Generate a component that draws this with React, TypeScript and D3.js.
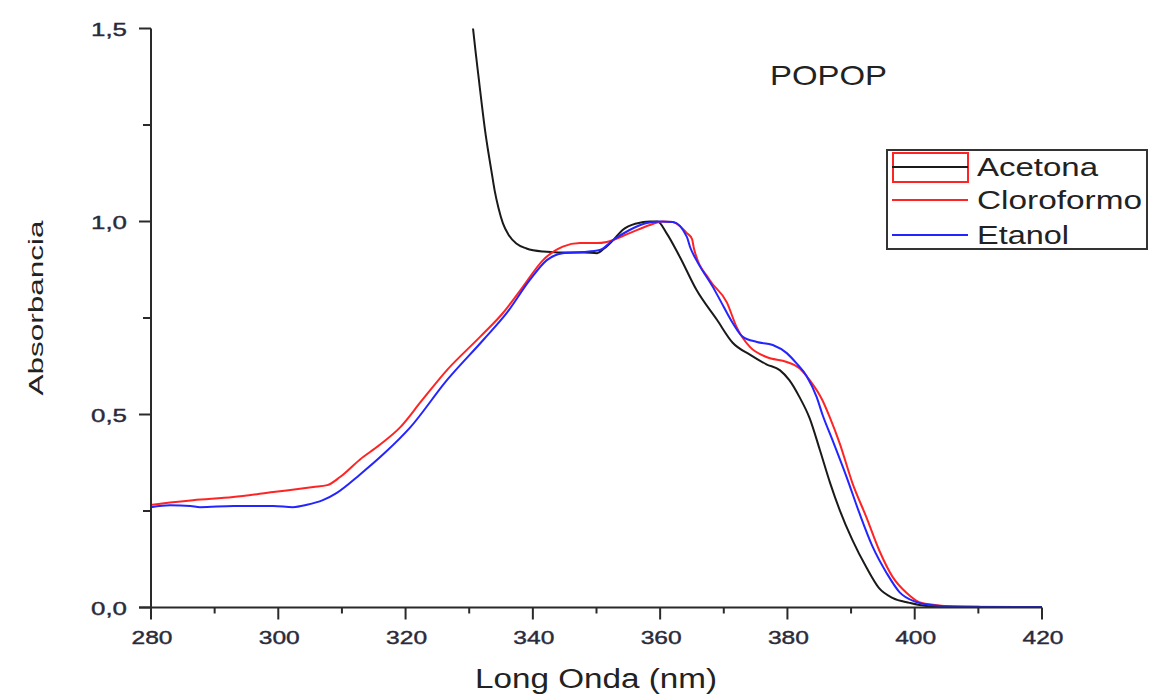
import React from "react";
import * as d3 from "d3";

// ---- Data (wavelength nm, absorbance) ----
const acetonaWl = [330.6, 331.0, 331.5, 332.0, 332.5, 333.0, 333.5, 334.0, 334.6, 335.3, 336.2, 337.4, 339.0, 341.6, 344.0, 348.0, 350.1, 351.2, 352.8, 354.1, 356.3, 358.4, 359.6, 361.0, 363.1, 365.7, 368.9, 371.4, 374.1, 376.7, 378.8, 380.3, 381.9, 383.5, 385.1, 386.7, 388.2, 390.2, 392.4, 394.4, 396.5, 399.2, 401.8, 405.0, 410.2];
const acetonaAbs = [1.5, 1.44, 1.37, 1.3, 1.235, 1.18, 1.13, 1.08, 1.035, 0.995, 0.965, 0.943, 0.93, 0.922, 0.92, 0.92, 0.918, 0.93, 0.955, 0.978, 0.995, 1.0, 1.0, 0.97, 0.908, 0.823, 0.746, 0.686, 0.655, 0.63, 0.615, 0.589, 0.545, 0.49, 0.408, 0.323, 0.253, 0.175, 0.104, 0.05, 0.025, 0.012, 0.004, 0.002, 0.001];

const cloroWl = [280, 283, 286.6, 292.9, 299.2, 305.5, 307.7, 309.7, 312.8, 315.9, 319.1, 322.5, 326.5, 331.7, 335.3, 338.4, 341.6, 344.7, 347.4, 350.1, 351.6, 355.2, 358.4, 360.4, 362.0, 364.2, 365.0, 365.3, 367.8, 370.5, 372.0, 374.1, 376.7, 379.9, 381.9, 383.5, 385.5, 386.6, 388.2, 390.2, 392.4, 394.4, 396.5, 398.7, 400.7, 403.4, 406.0, 410.2];
const cloroAbs = [0.266, 0.272, 0.278, 0.286, 0.299, 0.312, 0.317, 0.338, 0.383, 0.421, 0.466, 0.535, 0.615, 0.701, 0.763, 0.83, 0.9, 0.935, 0.944, 0.944, 0.947, 0.97, 0.991, 1.0, 0.999, 0.97, 0.955, 0.931, 0.848, 0.79, 0.727, 0.675, 0.649, 0.636, 0.62, 0.589, 0.537, 0.495, 0.426, 0.323, 0.234, 0.149, 0.08, 0.038, 0.014, 0.006, 0.003, 0.002];

const etanolWl = [280, 283, 286.2, 287.7, 293, 299.2, 302.3, 304.5, 307.0, 309.2, 312.8, 316.7, 320.7, 326.5, 332.2, 335.9, 339.5, 342.2, 344.7, 347.9, 350.5, 352.6, 355.2, 357.9, 359.9, 362.0, 364.2, 364.7, 365.7, 368.3, 369.4, 371.4, 373.0, 375.2, 377.7, 379.9, 381.4, 383.0, 384.6, 385.5, 387.1, 389.3, 391.3, 393.4, 395.6, 397.6, 400.3, 402.8, 406.0, 420.0];
const etanolAbs = [0.26, 0.265, 0.263, 0.26, 0.263, 0.263, 0.26, 0.266, 0.278, 0.297, 0.344, 0.4, 0.466, 0.589, 0.693, 0.763, 0.848, 0.9, 0.918, 0.921, 0.926, 0.952, 0.978, 0.996, 1.0, 0.999, 0.96, 0.934, 0.9, 0.83, 0.797, 0.737, 0.701, 0.688, 0.68, 0.659, 0.633, 0.6, 0.545, 0.5, 0.433, 0.338, 0.245, 0.157, 0.089, 0.04, 0.014, 0.006, 0.002, 0.001];

const seriesNames = ["Acetona", "Cloroformo", "Etanol"];
const seriesColors = ["#1a1a1a", "#ff2424", "#2424ff"];
const xMajorTicks = [280, 300, 320, 340, 360, 380, 400, 420];
const xMinorTicks = [290, 310, 330, 350, 370, 390, 410];
const yMajorTicks = [0, 0.5, 1.0, 1.5];
const yMinorTicks = [0.25, 0.75, 1.25];
const title = "POPOP";
const xTitle = "Long Onda (nm)";
const yTitle = "Absorbancia";

const FONT = "'Liberation Sans', Arial, sans-serif";

export default function App() {
  const x = d3.scaleLinear().domain([280, 420]).range([151, 1042]);
  const y = d3.scaleLinear().domain([0, 1.5]).range([607.5, 28.5]);
  const line = d3
    .line<[number, number]>()
    .x((d) => x(d[0]))
    .y((d) => y(d[1]))
    .curve(d3.curveMonotoneX);

  const series = [
    { wl: acetonaWl, abs: acetonaAbs },
    { wl: cloroWl, abs: cloroAbs },
    { wl: etanolWl, abs: etanolAbs },
  ];
  const axisColor = "#2a2a2a";
  const x0 = x(280);
  const y0 = y(0);
  const fmt = (v: number) => v.toFixed(1).replace(".", ",");

  const legendRows = [167, 200, 235];
  const legendLens = [121, 165, 92];

  return (
    <svg
      width={1149}
      height={694}
      style={{ position: "absolute", left: 0, top: 0, background: "#fff" }}
    >
      <rect x={0} y={0} width={1149} height={694} fill="#fff" />
      <defs>
        <clipPath id="plotclip">
          <rect x={x0} y={y(1.5) - 2} width={x(420) - x0 + 2} height={y0 - y(1.5) + 4} />
        </clipPath>
      </defs>

      {/* data lines */}
      <g clipPath="url(#plotclip)">
        {series.map((s, i) => (
          <path
            key={i}
            d={line(s.wl.map((w, k) => [w, s.abs[k]] as [number, number])) || ""}
            fill="none"
            stroke={seriesColors[i]}
            strokeWidth={2}
            strokeLinejoin="round"
          />
        ))}
      </g>

      {/* axes */}
      <line x1={x0} y1={y(1.5)} x2={x0} y2={y0} stroke={axisColor} strokeWidth={2} />
      <line x1={x0 - 12} y1={y0} x2={x(420)} y2={y0} stroke={axisColor} strokeWidth={2} />
      {yMajorTicks.map((t) => (
        <g key={"ym" + t}>
          <line x1={x0 - 12} x2={x0} y1={y(t)} y2={y(t)} stroke={axisColor} strokeWidth={2} />
          <text
            x={127}
            y={y(t) + 7}
            textAnchor="end"
            fontFamily={FONT}
            fontSize={19}
            fill="#2a2a3a"
            stroke="#2a2a3a"
            strokeWidth={0.4}
            textLength={36}
            lengthAdjust="spacingAndGlyphs"
          >
            {fmt(t)}
          </text>
        </g>
      ))}
      {yMinorTicks.map((t) => (
        <line key={"yn" + t} x1={x0 - 8} x2={x0} y1={y(t)} y2={y(t)} stroke={axisColor} strokeWidth={2} />
      ))}
      {xMajorTicks.map((t) => (
        <g key={"xm" + t}>
          <line x1={x(t)} x2={x(t)} y1={y0} y2={y0 + 12} stroke={axisColor} strokeWidth={2} />
          <text
            x={x(t) + 1}
            y={644}
            textAnchor="middle"
            fontFamily={FONT}
            fontSize={19}
            fill="#2a2a3a"
            stroke="#2a2a3a"
            strokeWidth={0.4}
            textLength={41}
            lengthAdjust="spacingAndGlyphs"
          >
            {t}
          </text>
        </g>
      ))}
      {xMinorTicks.map((t) => (
        <line key={"xn" + t} x1={x(t)} x2={x(t)} y1={y0} y2={y0 + 6} stroke={axisColor} strokeWidth={2} />
      ))}

      {/* axis titles */}
      <text
        x={475}
        y={688}
        fontFamily={FONT}
        fontSize={27}
        fill="#222"
        textLength={242}
        lengthAdjust="spacingAndGlyphs"
      >
        {xTitle}
      </text>
      <text
        transform="translate(43,308) rotate(-90)"
        textAnchor="middle"
        fontFamily={FONT}
        fontSize={21}
        fill="#222"
        textLength={175}
        lengthAdjust="spacingAndGlyphs"
      >
        {yTitle}
      </text>
      <text
        x={770}
        y={85}
        fontFamily={FONT}
        fontSize={28}
        fill="#222"
        textLength={117}
        lengthAdjust="spacingAndGlyphs"
      >
        {title}
      </text>

      {/* legend */}
      <rect x={887} y={150} width={260} height={99} fill="#fff" stroke="#333" strokeWidth={2} />
      <rect x={893} y={153} width={75} height={29} fill="none" stroke="#ff2424" strokeWidth={2} />
      {seriesNames.map((n, i) => (
        <g key={n}>
          <line x1={892} x2={968} y1={legendRows[i]} y2={legendRows[i]} stroke={seriesColors[i]} strokeWidth={2} />
          <text
            x={977}
            y={legendRows[i] + 9}
            fontFamily={FONT}
            fontSize={26}
            fill="#222"
            textLength={legendLens[i]}
            lengthAdjust="spacingAndGlyphs"
          >
            {n}
          </text>
        </g>
      ))}
    </svg>
  );
}
